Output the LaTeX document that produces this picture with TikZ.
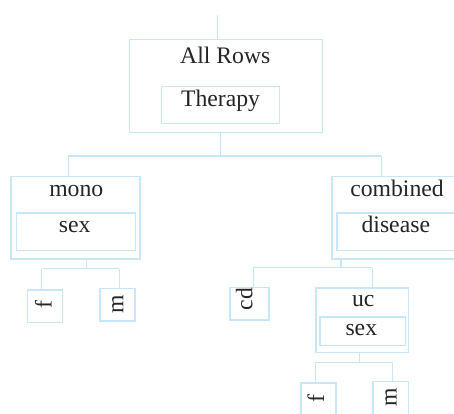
\documentclass[tikz,border=0pt]{standalone}
\usepackage{fontspec}
\setmainfont{Liberation Serif}
\definecolor{lineblue}{HTML}{C8E6F7}
\definecolor{txt}{HTML}{252525}
\begin{document}
\begin{tikzpicture}[x=1pt,y=-1pt,
  box/.style={draw=lineblue,line width=1.4pt,rectangle,inner sep=0pt,anchor=north west},
  lbl/.style={text=txt,inner sep=0pt,anchor=base,font=\fontsize{23.7}{28}\selectfont},
  rlbl/.style={lbl,rotate=90},
  conn/.style={draw=lineblue,line width=1.4pt}]
\useasboundingbox (0,0) rectangle (454,413);
\clip (0,0) rectangle (454,413);
% boxes
\node[box,minimum width=193pt,minimum height=93pt] (allrows) at (129,39) {};
\node[box,minimum width=118pt,minimum height=37pt] (therapy) at (161,86) {};
\node[box,minimum width=129pt,minimum height=82.6pt] (mono) at (10.3,175.7) {};
\node[box,minimum width=119pt,minimum height=37.4pt] (monosex) at (15.7,212.3) {};
\node[box,minimum width=131.4pt,minimum height=82.6pt] (combined) at (331.3,175.7) {};
\node[box,minimum width=119.4pt,minimum height=37.4pt] (disease) at (336.3,212.3) {};
\node[box,minimum width=35.3pt,minimum height=32.4pt] (f1) at (26.7,289.3) {};
\node[box,minimum width=35pt,minimum height=32.6pt] (m1) at (99.3,287.7) {};
\node[box,minimum width=39pt,minimum height=32.6pt] (cd) at (229.3,286.7) {};
\node[box,minimum width=92.4pt,minimum height=64.4pt] (uc) at (315.3,287.3) {};
\node[box,minimum width=85.4pt,minimum height=28.7pt] (ucsex) at (319.3,316.3) {};
\node[box,minimum width=35pt,minimum height=34pt] (f2) at (300.3,382.3) {};
\node[box,minimum width=35.4pt,minimum height=34pt] (m2) at (372.3,380.7) {};
% labels
\node[lbl] (tAll) at (225.3,63.3) {All Rows};
\node[lbl] (tTher) at (220.5,106) {Therapy};
\node[lbl] (tMono) at (76.3,196) {mono};
\node[lbl] (tSex1) at (74.7,232.7) {sex};
\node[lbl] (tComb) at (397,196) {combined};
\node[lbl] (tDis) at (395.8,232.7) {disease};
\node[lbl] (tUc) at (363.2,306.7) {uc};
\node[lbl] (tSex2) at (361.3,335) {sex};
\node[rlbl] (tCd) at (252.3,299) {cd};
\node[rlbl] (tF1) at (51.7,305) {f};
\node[rlbl] (tM1) at (123.3,304.5) {m};
\node[rlbl] (tF2) at (324,398.3) {f};
\node[rlbl] (tM2) at (396.7,397.5) {m};
% connectors
\coordinate (root) at (217.7,15);
\draw[conn] (root) -- (root |- allrows.north);
\coordinate (b1) at (220.3,156);
\coordinate (b1l) at (68.3,156);
\coordinate (b1r) at (381.3,156);
\draw[conn] (b1 |- allrows.south) -- (b1);
\draw[conn] (b1l) -- (b1r);
\draw[conn] (b1l) -- (b1l |- mono.north);
\draw[conn] (b1r) -- (b1r |- combined.north);
\coordinate (b2) at (86.7,268.7);
\coordinate (b2l) at (41.7,268.7);
\coordinate (b2r) at (119.3,268.7);
\draw[conn] (b2 |- mono.south) -- (b2);
\draw[conn] (b2l) -- (b2r);
\draw[conn] (b2l) -- (b2l |- f1.north);
\draw[conn] (b2r) -- (b2r |- m1.north);
\coordinate (b3) at (341,267.7);
\coordinate (b3l) at (253.3,267.7);
\coordinate (b3r) at (372.3,267.7);
\draw[conn] (b3 |- combined.south) -- (b3);
\draw[conn] (b3l) -- (b3r);
\draw[conn] (b3l) -- (b3l |- cd.north);
\draw[conn] (b3r) -- (b3r |- uc.north);
\coordinate (b4) at (359.7,362.3);
\coordinate (b4l) at (315.3,362.3);
\coordinate (b4r) at (392.3,362.3);
\draw[conn] (b4 |- uc.south) -- (b4);
\draw[conn] (b4l) -- (b4r);
\draw[conn] (b4l) -- (b4l |- f2.north);
\draw[conn] (b4r) -- (b4r |- m2.north);
\end{tikzpicture}
\end{document}
